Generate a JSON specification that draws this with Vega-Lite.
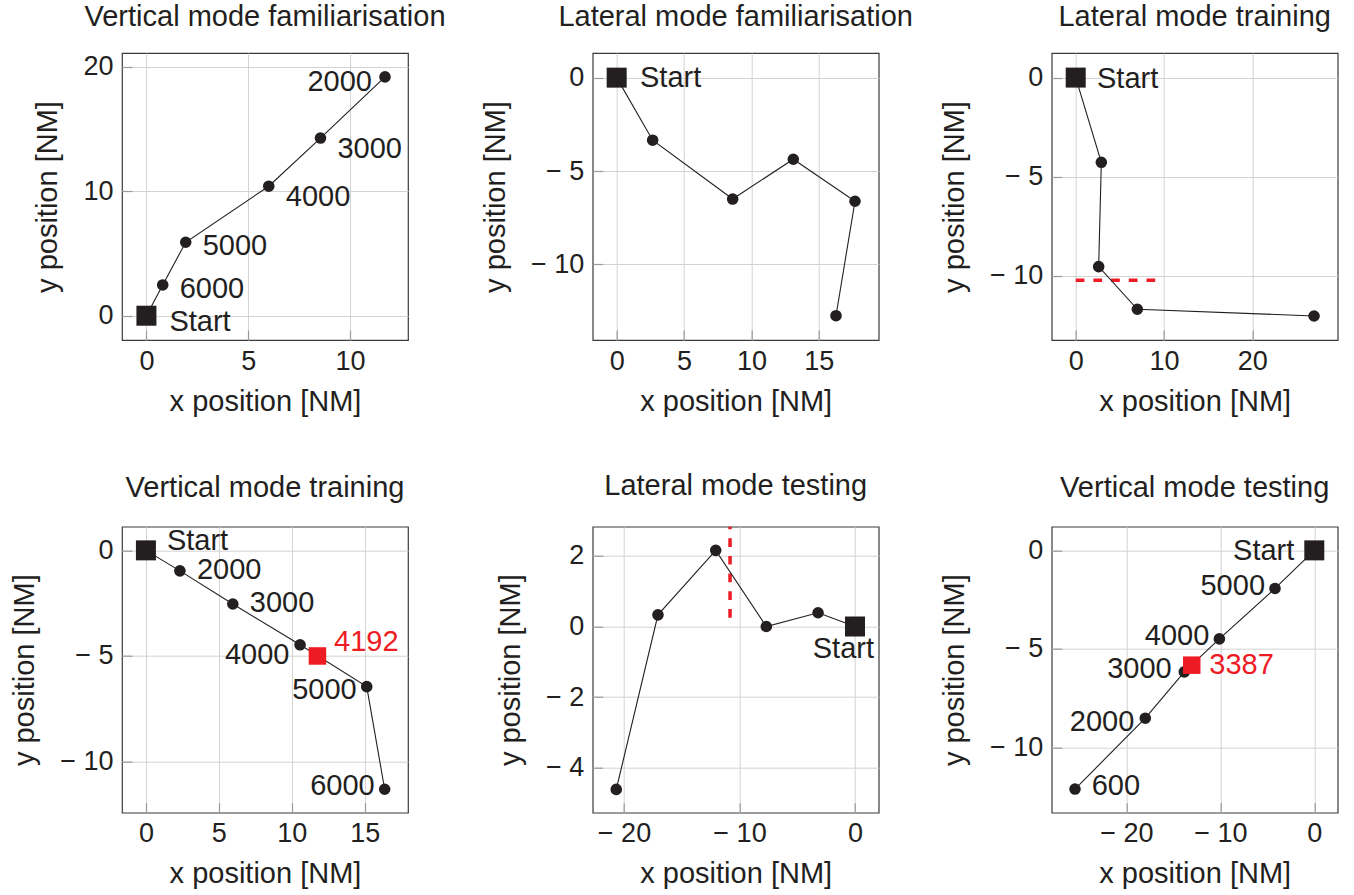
{
  "$schema": "https://vega.github.io/schema/vega-lite/v6.json",
  "padding": {"left": 10, "top": 2, "right": 5, "bottom": 5},
  "background": "white",
  "datasets": {
    "traj": [
      {"panel": "A", "order": 0, "x": 0, "y": 0, "kind": "start", "label": "Start"},
      {"panel": "A", "order": 1, "x": 0.8, "y": 2.47, "kind": "point", "label": "6000"},
      {"panel": "A", "order": 2, "x": 1.93, "y": 5.9, "kind": "point", "label": "5000"},
      {"panel": "A", "order": 3, "x": 6.01, "y": 10.4, "kind": "point", "label": "4000"},
      {"panel": "A", "order": 4, "x": 8.55, "y": 14.27, "kind": "point", "label": "3000"},
      {"panel": "A", "order": 5, "x": 11.72, "y": 19.18, "kind": "point", "label": "2000"},
      {"panel": "B", "order": 0, "x": 0, "y": 0, "kind": "start", "label": "Start"},
      {"panel": "B", "order": 1, "x": 2.67, "y": -3.35, "kind": "point", "label": ""},
      {"panel": "B", "order": 2, "x": 8.61, "y": -6.5, "kind": "point", "label": ""},
      {"panel": "B", "order": 3, "x": 13.11, "y": -4.37, "kind": "point", "label": ""},
      {"panel": "B", "order": 4, "x": 17.69, "y": -6.62, "kind": "point", "label": ""},
      {"panel": "B", "order": 5, "x": 16.28, "y": -12.75, "kind": "point", "label": ""},
      {"panel": "C", "order": 0, "x": 0, "y": 0, "kind": "start", "label": "Start"},
      {"panel": "C", "order": 1, "x": 2.9, "y": -4.27, "kind": "point", "label": ""},
      {"panel": "C", "order": 2, "x": 2.6, "y": -9.53, "kind": "point", "label": ""},
      {"panel": "C", "order": 3, "x": 6.98, "y": -11.68, "kind": "point", "label": ""},
      {"panel": "C", "order": 4, "x": 26.99, "y": -12.02, "kind": "point", "label": ""},
      {"panel": "D", "order": 0, "x": 0, "y": 0, "kind": "start", "label": "Start"},
      {"panel": "D", "order": 1, "x": 2.33, "y": -0.97, "kind": "point", "label": "2000"},
      {"panel": "D", "order": 2, "x": 5.96, "y": -2.54, "kind": "point", "label": "3000"},
      {"panel": "D", "order": 3, "x": 10.57, "y": -4.47, "kind": "point", "label": "4000"},
      {"panel": "D", "order": 4, "x": 15.14, "y": -6.45, "kind": "point", "label": "5000"},
      {"panel": "D", "order": 5, "x": 16.37, "y": -11.31, "kind": "point", "label": "6000"},
      {"panel": "D", "order": 9, "x": 11.76, "y": -5.0, "kind": "marker", "label": "4192"},
      {"panel": "E", "order": 0, "x": 0, "y": 0, "kind": "start", "label": "Start"},
      {"panel": "E", "order": 1, "x": -3.2, "y": 0.39, "kind": "point", "label": ""},
      {"panel": "E", "order": 2, "x": -7.68, "y": 0.0, "kind": "point", "label": ""},
      {"panel": "E", "order": 3, "x": -12.06, "y": 2.16, "kind": "point", "label": ""},
      {"panel": "E", "order": 4, "x": -17.06, "y": 0.33, "kind": "point", "label": ""},
      {"panel": "E", "order": 5, "x": -20.67, "y": -4.62, "kind": "point", "label": ""},
      {"panel": "F", "order": 0, "x": 0, "y": 0, "kind": "start", "label": "Start"},
      {"panel": "F", "order": 1, "x": -4.18, "y": -1.93, "kind": "point", "label": "5000"},
      {"panel": "F", "order": 2, "x": -10.1, "y": -4.49, "kind": "point", "label": "4000"},
      {"panel": "F", "order": 3, "x": -13.83, "y": -6.16, "kind": "point", "label": "3000"},
      {"panel": "F", "order": 4, "x": -17.98, "y": -8.51, "kind": "point", "label": "2000"},
      {"panel": "F", "order": 5, "x": -25.46, "y": -12.1, "kind": "point", "label": "600"},
      {"panel": "F", "order": 9, "x": -13.04, "y": -5.82, "kind": "marker", "label": "3387"}
    ],
    "guides": [
      {"panel": "C", "x": 0, "x2": 9, "y": -10.22},
      {"panel": "E", "x": -10.82, "y": 0.25, "y2": 2.83}
    ]
  },
  "bounds": "flush",
  "spacing": 470.7,
  "hconcat": [
    {
      "bounds": "flush",
      "spacing": 186.7,
      "vconcat": [
        {
          "width": 286, "height": 287,
          "title": {"text": "Vertical mode familiarisation", "offset": 21},
          "data": {"name": "traj"},
          "transform": [{"filter": "datum.panel == 'A'"}],
          "encoding": {
            "x": {"field": "x", "type": "quantitative", "scale": {"domain": [-1.2, 12.85], "nice": false, "zero": false}, "axis": {"values": [0, 5, 10], "title": "x position [NM]"}},
            "y": {"field": "y", "type": "quantitative", "scale": {"domain": [-1.95, 21.1], "nice": false, "zero": false}, "axis": {"values": [0, 10, 20], "title": "y position [NM]"}}
          },
          "layer": [
            {"transform": [{"filter": "datum.kind != 'marker'"}], "mark": {"type": "line", "color": "#231f20", "strokeWidth": 1.1}, "encoding": {"order": {"field": "order", "type": "quantitative"}}},
            {"transform": [{"filter": "datum.kind == 'point'"}], "mark": {"type": "circle", "size": 135, "color": "#231f20", "opacity": 1}},
            {"transform": [{"filter": "datum.kind == 'start'"}], "mark": {"type": "square", "size": 400, "color": "#231f20", "opacity": 1}},
            {"transform": [{"filter": "datum.kind == 'start'"}], "mark": {"type": "text", "align": "left", "baseline": "alphabetic", "dx": 23, "dy": 15, "fontSize": 29, "color": "#231f20"}, "encoding": {"text": {"field": "label"}}},
            {"transform": [{"filter": {"field": "label", "oneOf": ["6000", "5000"]}}], "mark": {"type": "text", "align": "left", "baseline": "alphabetic", "dx": 17, "dy": 13, "fontSize": 29, "color": "#231f20"}, "encoding": {"text": {"field": "label"}}},
            {"transform": [{"filter": {"field": "label", "oneOf": ["4000", "3000"]}}], "mark": {"type": "text", "align": "left", "baseline": "alphabetic", "dx": 17, "dy": 19.5, "fontSize": 29, "color": "#231f20"}, "encoding": {"text": {"field": "label"}}},
            {"transform": [{"filter": {"field": "label", "oneOf": ["2000"]}}], "mark": {"type": "text", "align": "right", "baseline": "alphabetic", "dx": -13, "dy": 14.4, "fontSize": 29, "color": "#231f20"}, "encoding": {"text": {"field": "label"}}}
          ]
        },
        {
          "width": 286, "height": 286,
          "title": {"text": "Vertical mode training", "offset": 23.5},
          "data": {"name": "traj"},
          "transform": [{"filter": "datum.panel == 'D'"}],
          "encoding": {
            "x": {"field": "x", "type": "quantitative", "scale": {"domain": [-1.64, 17.97], "nice": false, "zero": false}, "axis": {"values": [0, 5, 10, 15], "title": "x position [NM]"}},
            "y": {"field": "y", "type": "quantitative", "scale": {"domain": [-12.42, 1.12], "nice": false, "zero": false}, "axis": {"values": [0, -5, -10], "title": "y position [NM]"}}
          },
          "layer": [
            {"transform": [{"filter": "datum.kind != 'marker'"}], "mark": {"type": "line", "color": "#231f20", "strokeWidth": 1.1}, "encoding": {"order": {"field": "order", "type": "quantitative"}}},
            {"transform": [{"filter": "datum.kind == 'point'"}], "mark": {"type": "circle", "size": 135, "color": "#231f20", "opacity": 1}},
            {"transform": [{"filter": "datum.kind == 'start'"}], "mark": {"type": "square", "size": 400, "color": "#231f20", "opacity": 1}},
            {"transform": [{"filter": "datum.kind == 'marker'"}], "mark": {"type": "square", "size": 306, "color": "#ed1c24", "opacity": 1}},
            {"transform": [{"filter": "datum.kind == 'start'"}], "mark": {"type": "text", "align": "left", "baseline": "alphabetic", "dx": 21, "dy": 0, "fontSize": 29, "color": "#231f20"}, "encoding": {"text": {"field": "label"}}},
            {"transform": [{"filter": {"field": "label", "oneOf": ["2000", "3000"]}}], "mark": {"type": "text", "align": "left", "baseline": "alphabetic", "dx": 17, "dy": 7.7, "fontSize": 29, "color": "#231f20"}, "encoding": {"text": {"field": "label"}}},
            {"transform": [{"filter": {"field": "label", "oneOf": ["4000"]}}], "mark": {"type": "text", "align": "right", "baseline": "alphabetic", "dx": -10.6, "dy": 19.6, "fontSize": 29, "color": "#231f20"}, "encoding": {"text": {"field": "label"}}},
            {"transform": [{"filter": {"field": "label", "oneOf": ["5000"]}}], "mark": {"type": "text", "align": "right", "baseline": "alphabetic", "dx": -10, "dy": 12, "fontSize": 29, "color": "#231f20"}, "encoding": {"text": {"field": "label"}}},
            {"transform": [{"filter": {"field": "label", "oneOf": ["6000"]}}], "mark": {"type": "text", "align": "right", "baseline": "alphabetic", "dx": -10, "dy": 5.3, "fontSize": 29, "color": "#231f20"}, "encoding": {"text": {"field": "label"}}},
            {"transform": [{"filter": "datum.kind == 'marker'"}], "mark": {"type": "text", "align": "left", "baseline": "alphabetic", "dx": 16.6, "dy": -4.7, "fontSize": 29, "color": "#ed1c24"}, "encoding": {"text": {"field": "label"}}}
          ]
        }
      ]
    },
    {
      "bounds": "flush",
      "spacing": 459,
      "hconcat": [
        {
          "bounds": "flush",
          "spacing": 186.7,
          "vconcat": [
            {
              "width": 286, "height": 287,
              "title": {"text": "Lateral mode familiarisation", "offset": 21},
              "data": {"name": "traj"},
              "transform": [{"filter": "datum.panel == 'B'"}],
              "encoding": {
                "x": {"field": "x", "type": "quantitative", "scale": {"domain": [-1.78, 19.45], "nice": false, "zero": false}, "axis": {"values": [0, 5, 10, 15], "title": "x position [NM]"}},
                "y": {"field": "y", "type": "quantitative", "scale": {"domain": [-14.05, 1.32], "nice": false, "zero": false}, "axis": {"values": [0, -5, -10], "title": "y position [NM]"}}
              },
              "layer": [
                {"transform": [{"filter": "datum.kind != 'marker'"}], "mark": {"type": "line", "color": "#231f20", "strokeWidth": 1.1}, "encoding": {"order": {"field": "order", "type": "quantitative"}}},
                {"transform": [{"filter": "datum.kind == 'point'"}], "mark": {"type": "circle", "size": 135, "color": "#231f20", "opacity": 1}},
                {"transform": [{"filter": "datum.kind == 'start'"}], "mark": {"type": "square", "size": 400, "color": "#231f20", "opacity": 1}},
                {"transform": [{"filter": "datum.kind == 'start'"}], "mark": {"type": "text", "align": "left", "baseline": "alphabetic", "dx": 23.3, "dy": 9.5, "fontSize": 29, "color": "#231f20"}, "encoding": {"text": {"field": "label"}}}
              ]
            },
            {
              "width": 286, "height": 286,
              "title": {"text": "Lateral mode testing", "offset": 23.5},
              "data": {"name": "traj"},
              "transform": [{"filter": "datum.panel == 'E'"}],
              "encoding": {
                "x": {"field": "x", "type": "quantitative", "scale": {"domain": [-22.71, 2.05], "nice": false, "zero": false}, "axis": {"values": [-20, -10, 0], "title": "x position [NM]"}},
                "y": {"field": "y", "type": "quantitative", "scale": {"domain": [-5.28, 2.83], "nice": false, "zero": false}, "axis": {"values": [2, 0, -2, -4], "title": "y position [NM]"}}
              },
              "layer": [
                {"data": {"name": "guides"}, "transform": [{"filter": "datum.panel == 'E'"}], "mark": {"type": "rule", "color": "#ed1c24", "strokeWidth": 3.5, "strokeDash": [8.7, 9]}, "encoding": {"y2": {"field": "y2"}}},
                {"transform": [{"filter": "datum.kind != 'marker'"}], "mark": {"type": "line", "color": "#231f20", "strokeWidth": 1.1}, "encoding": {"order": {"field": "order", "type": "quantitative"}}},
                {"transform": [{"filter": "datum.kind == 'point'"}], "mark": {"type": "circle", "size": 135, "color": "#231f20", "opacity": 1}},
                {"transform": [{"filter": "datum.kind == 'start'"}], "mark": {"type": "square", "size": 400, "color": "#231f20", "opacity": 1}},
                {"transform": [{"filter": "datum.kind == 'start'"}], "mark": {"type": "text", "align": "right", "baseline": "alphabetic", "dx": 19, "dy": 31, "fontSize": 29, "color": "#231f20"}, "encoding": {"text": {"field": "label"}}}
              ]
            }
          ]
        },
        {
          "bounds": "flush",
          "spacing": 186.7,
          "vconcat": [
            {
              "width": 286, "height": 287,
              "title": {"text": "Lateral mode training", "offset": 21},
              "data": {"name": "traj"},
              "transform": [{"filter": "datum.panel == 'C'"}],
              "encoding": {
                "x": {"field": "x", "type": "quantitative", "scale": {"domain": [-2.72, 29.67], "nice": false, "zero": false}, "axis": {"values": [0, 10, 20], "title": "x position [NM]"}},
                "y": {"field": "y", "type": "quantitative", "scale": {"domain": [-13.23, 1.24], "nice": false, "zero": false}, "axis": {"values": [0, -5, -10], "title": "y position [NM]"}}
              },
              "layer": [
                {"data": {"name": "guides"}, "transform": [{"filter": "datum.panel == 'C'"}], "mark": {"type": "rule", "color": "#ed1c24", "strokeWidth": 3.5, "strokeDash": [8.7, 9]}, "encoding": {"x2": {"field": "x2"}}},
                {"transform": [{"filter": "datum.kind != 'marker'"}], "mark": {"type": "line", "color": "#231f20", "strokeWidth": 1.1}, "encoding": {"order": {"field": "order", "type": "quantitative"}}},
                {"transform": [{"filter": "datum.kind == 'point'"}], "mark": {"type": "circle", "size": 135, "color": "#231f20", "opacity": 1}},
                {"transform": [{"filter": "datum.kind == 'start'"}], "mark": {"type": "square", "size": 400, "color": "#231f20", "opacity": 1}},
                {"transform": [{"filter": "datum.kind == 'start'"}], "mark": {"type": "text", "align": "left", "baseline": "alphabetic", "dx": 21.3, "dy": 10, "fontSize": 29, "color": "#231f20"}, "encoding": {"text": {"field": "label"}}}
              ]
            },
            {
              "width": 286, "height": 286,
              "title": {"text": "Vertical mode testing", "offset": 23.5},
              "data": {"name": "traj"},
              "transform": [{"filter": "datum.panel == 'F'"}],
              "encoding": {
                "x": {"field": "x", "type": "quantitative", "scale": {"domain": [-27.94, 2.49], "nice": false, "zero": false}, "axis": {"values": [-20, -10, 0], "title": "x position [NM]"}},
                "y": {"field": "y", "type": "quantitative", "scale": {"domain": [-13.3, 1.2], "nice": false, "zero": false}, "axis": {"values": [0, -5, -10], "title": "y position [NM]"}}
              },
              "layer": [
                {"transform": [{"filter": "datum.kind != 'marker'"}], "mark": {"type": "line", "color": "#231f20", "strokeWidth": 1.1}, "encoding": {"order": {"field": "order", "type": "quantitative"}}},
                {"transform": [{"filter": "datum.kind == 'point'"}], "mark": {"type": "circle", "size": 135, "color": "#231f20", "opacity": 1}},
                {"transform": [{"filter": "datum.kind == 'start'"}], "mark": {"type": "square", "size": 400, "color": "#231f20", "opacity": 1}},
                {"transform": [{"filter": "datum.kind == 'marker'"}], "mark": {"type": "square", "size": 306, "color": "#ed1c24", "opacity": 1}},
                {"transform": [{"filter": "datum.kind == 'start'"}], "mark": {"type": "text", "align": "right", "baseline": "alphabetic", "dx": -20, "dy": 10, "fontSize": 29, "color": "#231f20"}, "encoding": {"text": {"field": "label"}}},
                {"transform": [{"filter": {"field": "label", "oneOf": ["5000", "4000"]}}], "mark": {"type": "text", "align": "right", "baseline": "alphabetic", "dx": -10, "dy": 6.5, "fontSize": 29, "color": "#231f20"}, "encoding": {"text": {"field": "label"}}},
                {"transform": [{"filter": {"field": "label", "oneOf": ["3000"]}}], "mark": {"type": "text", "align": "right", "baseline": "alphabetic", "dx": -12.6, "dy": 6.6, "fontSize": 29, "color": "#231f20"}, "encoding": {"text": {"field": "label"}}},
                {"transform": [{"filter": {"field": "label", "oneOf": ["2000"]}}], "mark": {"type": "text", "align": "right", "baseline": "alphabetic", "dx": -11, "dy": 12.3, "fontSize": 29, "color": "#231f20"}, "encoding": {"text": {"field": "label"}}},
                {"transform": [{"filter": {"field": "label", "oneOf": ["600"]}}], "mark": {"type": "text", "align": "left", "baseline": "alphabetic", "dx": 16.7, "dy": 6.3, "fontSize": 29, "color": "#231f20"}, "encoding": {"text": {"field": "label"}}},
                {"transform": [{"filter": "datum.kind == 'marker'"}], "mark": {"type": "text", "align": "left", "baseline": "alphabetic", "dx": 17.6, "dy": 8.7, "fontSize": 29, "color": "#ed1c24"}, "encoding": {"text": {"field": "label"}}}
              ]
            }
          ]
        }
      ]
    }
  ],
  "config": {
    "font": "Liberation Sans",
    "view": {"stroke": "#3a3a3a", "strokeWidth": 1.2},
    "axis": {
      "grid": true, "gridColor": "#d3d3d3", "gridWidth": 1,
      "domain": false, "ticks": true, "tickSize": -10, "tickColor": "#9a9a9a", "tickWidth": 1.2,
      "labelFont": "Liberation Sans", "labelFontSize": 27, "labelColor": "#231f20",
      "labelFlush": false, "labelOverlap": false,
      "labelExpr": "datum.value < 0 ? '− ' + (-datum.value) : datum.label",
      "titleFont": "Liberation Sans", "titleFontSize": 29, "titleFontWeight": "normal", "titleColor": "#231f20"
    },
    "axisX": {"labelPadding": 18, "titlePadding": 13},
    "axisY": {"labelPadding": 19, "titlePadding": 20},
    "title": {"font": "Liberation Sans", "fontSize": 29, "fontWeight": "normal", "color": "#231f20", "anchor": "middle", "baseline": "alphabetic", "frame": "group"}
  }
}
